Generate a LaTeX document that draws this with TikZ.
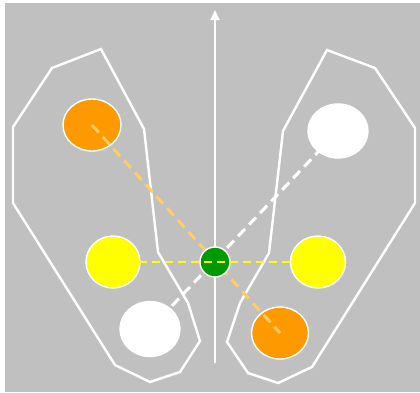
\documentclass[tikz,border=0pt]{standalone}
\usetikzlibrary{shapes.geometric,arrows.meta}

\definecolor{bggray}{RGB}{192,192,192}
\definecolor{wingorange}{RGB}{255,153,0}
\definecolor{dashorange}{RGB}{255,204,102}
\definecolor{bodygreen}{RGB}{0,153,0}
\definecolor{spotyellow}{RGB}{255,255,0}

\tikzset{
  spot/.style={ellipse, inner sep=0pt, draw=white, line width=1.4pt},
  wing/.style={white, line width=2.4pt},
  pairline/.style={line width=3pt, dash pattern=on 10pt off 6pt}
}

\begin{document}
\begin{tikzpicture}[x=1pt, y=-1pt]

%% ── Frame ─────────────────────────────────────────────────────────────────────
\fill[white] (0,0) rectangle (420,392);
\fill[bggray] (5,3) rectangle (420,392);

%% ── Wings ─────────────────────────────────────────────────────────────────────
\draw[wing] (52,68) -- (101,49) -- (144,129) -- (158,252) -- (188,303)
  -- (200,341) -- (180,372) -- (150,382) -- (115,365) -- (13,203)
  -- (13,127) -- cycle;
\draw[wing] (327,50) -- (375,68) -- (415,128) -- (415,203) -- (312,367)
  -- (278,383) -- (248,373) -- (227,342) -- (240,303) -- (269,253)
  -- (283,131) -- cycle;

%% ── Axis ──────────────────────────────────────────────────────────────────────
\coordinate (axbase) at (215,363);
\coordinate (axtip) at (215,10);
\draw[white, line width=2pt, -{Triangle[length=10pt,width=9pt]}] (axbase) -- (axtip);

%% ── Spots ─────────────────────────────────────────────────────────────────────
\node[spot, fill=wingorange, minimum width=58pt, minimum height=52pt] (orTL) at (92,125) {};
\node[spot, fill=white, minimum width=60pt, minimum height=54pt] (whTR) at (338,131) {};
\node[spot, fill=spotyellow, minimum width=54pt, minimum height=52pt] (yeL) at (113,262) {};
\node[spot, fill=white, minimum width=60pt, minimum height=55pt] (whBL) at (150,329) {};
\node[spot, fill=spotyellow, minimum width=55pt, minimum height=52pt] (yeR) at (318,262) {};
\node[spot, fill=wingorange, minimum width=57pt, minimum height=52pt] (orBR) at (280,333) {};

%% pairs across the body
\draw[pairline, dashorange] (orTL.center) -- (orBR.center);
\draw[pairline, white] (whBL.center) -- (whTR.center);

%% ── Body ──────────────────────────────────────────────────────────────────────
\node[spot, fill=bodygreen, minimum width=30pt, minimum height=30pt] (body) at (215,262) {};

\draw[spotyellow, line width=2pt, dash pattern=on 8pt off 5pt] (yeL.center) -- (yeR.center);

\end{tikzpicture}
\end{document}
